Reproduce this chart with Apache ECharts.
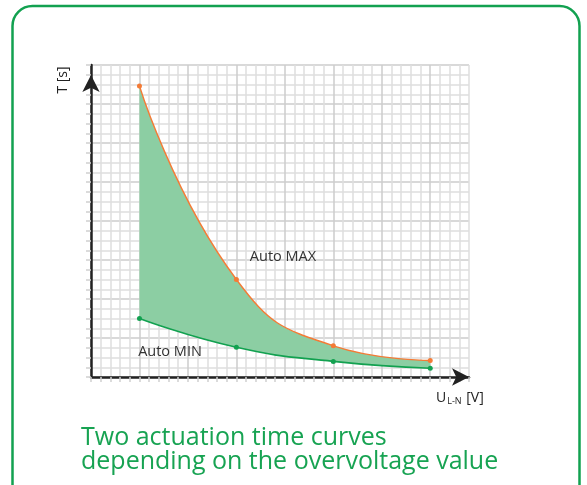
<!DOCTYPE html>
<html>
<head>
<meta charset="utf-8">
<script src="https://cdn.jsdelivr.net/npm/echarts@6/dist/echarts.min.js"></script>
<style>
html,body{margin:0;padding:0;background:#fff;}
#chart{width:587px;height:485px;}
</style>
</head>
<body>
<div id="chart"></div>
<script>
// Overvoltage positions (grid units) and actuation times (grid units)
const voltages = [5, 15, 25, 35];
const autoMax = [29.85, 10.0, 3.2, 1.7];
const autoMin = [6.0, 3.05, 1.6, 0.9];
const titleLines = ['Two actuation time curves', 'depending on the overvoltage value'];
const yName = 'T [s]';

const maxBand = autoMax.map((v, i) => v - autoMin[i]);
const minData = voltages.map((x, i) => [x, autoMin[i]]);
const bandData = voltages.map((x, i) => [x, maxBand[i]]);

const GREEN = '#12a150';
const ORANGE = '#f47b36';
const FILL = '#8ccea3';
const minorC = '#dedede', majorC = '#cdcdcd';
const FONT = '"Open Sans", Roboto, sans-serif';

const chart = echarts.init(document.getElementById('chart'), null, {renderer: 'canvas'});
chart.setOption({
  animation: false,
  backgroundColor: '#fff',
  grid: {left: 91, top: 65, width: 378, height: 312, containLabel: false},
  xAxis: [{
    type: 'value', min: 0, max: 39, interval: 1,
    axisLabel: {show: false},
    axisLine: {show: true, onZero: false, symbol: ['none', 'arrow'], symbolSize: [13, 17], symbolOffset: [0, 0],
      lineStyle: {color: '#222', width: 2.5}},
    axisTick: {show: true, length: 5, inside: false, interval: (i, v) => v % 5 === 0,
      lineStyle: {color: '#cfcfcf', width: 1.5}},
    splitLine: {show: true, lineStyle: {width: 1.5, color: [majorC, minorC, minorC, minorC, minorC]}}
  }, {
    // same extent, non-stackable dimension so that stacking happens on y
    type: 'time', min: 0, max: 39, show: false,
    axisLine: {show: false}, axisTick: {show: false}, axisLabel: {show: false}, splitLine: {show: false}
  }],
  yAxis: {
    type: 'value', min: 0, max: 32, interval: 1,
    axisLabel: {show: false},
    axisLine: {show: true, onZero: false, symbol: ['none', 'arrow'], symbolSize: [13, 17], symbolOffset: [0, -10],
      lineStyle: {color: '#222', width: 2.5}},
    axisTick: {show: true, length: 5, inside: false, interval: (i, v) => v % 4 === 0,
      lineStyle: {color: '#cfcfcf', width: 1.5}},
    splitLine: {show: true, lineStyle: {width: 1.5, color: [majorC, minorC, minorC, minorC]}}
  },
  series: [
    {
      name: 'Auto MIN', type: 'line', xAxisIndex: 1, stack: 'band', data: minData,
      smooth: 0.5, z: 4,
      symbol: 'circle', symbolSize: 5, showSymbol: true,
      itemStyle: {color: GREEN}, lineStyle: {color: GREEN, width: 1.6}
    },
    {
      name: 'Auto MAX', type: 'line', xAxisIndex: 1, stack: 'band', data: bandData,
      smooth: 0.5, z: 3,
      symbol: 'circle', symbolSize: 5, showSymbol: true,
      itemStyle: {color: ORANGE}, lineStyle: {color: ORANGE, width: 1.4},
      areaStyle: {color: FILL, opacity: 1}
    }
  ],
  graphic: [
    {type: 'rect', shape: {x: 12.5, y: 6, width: 567, height: 520, r: 20},
      style: {fill: 'none', stroke: GREEN, lineWidth: 2.5}, z: 100},
    {type: 'text', x: 63, y: 80, rotation: Math.PI / 2, z: 100,
      style: {text: yName, font: '14px ' + FONT, fill: '#222', align: 'center', verticalAlign: 'middle'}},
    {type: 'text', x: 436, y: 398, z: 100,
      style: {
        text: '{u|U}{s|L-N}{u| [V]}',
        rich: {
          u: {font: '14px ' + FONT, fill: '#222', verticalAlign: 'bottom'},
          s: {font: '9px ' + FONT, fill: '#222', padding: [6, 1, 0, 1], verticalAlign: 'bottom'}
        },
        verticalAlign: 'middle'
      }},
    {type: 'text', x: 283, y: 257, z: 100,
      style: {text: 'Auto MAX', font: '14.5px ' + FONT, fill: '#333', align: 'center', verticalAlign: 'middle'}},
    {type: 'text', x: 170, y: 352, z: 100,
      style: {text: 'Auto MIN', font: '14.5px ' + FONT, fill: '#333', align: 'center', verticalAlign: 'middle'}},
    {type: 'text', x: 81, y: 426, z: 100,
      style: {text: titleLines.join('\n'), font: '25px ' + FONT, lineHeight: 24, fill: '#17a352', align: 'left', verticalAlign: 'top'}}
  ]
});
</script>
</body>
</html>
